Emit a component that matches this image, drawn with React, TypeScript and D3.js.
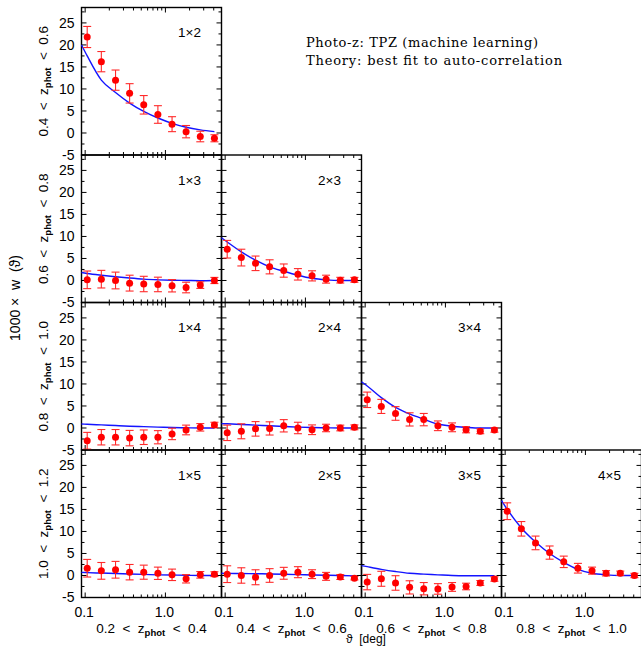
import React from "react";
import * as d3 from "d3";

// angular bins (deg) and the grid the fit curve is drawn on
const theta = [0.106, 0.159, 0.239, 0.358, 0.537, 0.806, 1.21, 1.81, 2.72, 4.08];
const thetaFit = [0.09, 0.106, 0.159, 0.239, 0.358, 0.537, 0.806, 1.21, 1.81, 2.72, 4.08];

// 1000 x w(theta), errors and best-fit theory, one set per bin pair
const w12 = [21.8, 16.2, 12.0, 9.0, 6.4, 4.2, 2.0, 0.3, -0.8, -1.2];
const e12 = [2.4, 2.3, 2.3, 2.2, 2.1, 2.0, 1.7, 1.4, 1.2, 0.8];
const fit12 = [20.0, 17.5, 12.0, 9.2, 6.8, 4.9, 3.4, 2.2, 1.3, 0.7, 0.3];

const w13 = [0.15, 0.3, 0.0, -0.6, -0.8, -0.9, -1.2, -1.6, -1.05, 0.0];
const e13 = [2.0, 2.0, 1.9, 1.8, 1.75, 1.65, 1.4, 1.2, 0.75, 0.7];
const fit13 = [1.8, 1.6, 1.2, 0.85, 0.55, 0.3, 0.15, 0.05, 0.0, -0.05, 0.0];

const w23 = [7.1, 5.2, 3.9, 3.1, 2.25, 1.4, 1.05, 0.3, 0.07, 0.15];
const e23 = [2.0, 1.9, 1.65, 1.6, 1.5, 1.3, 1.15, 0.9, 0.65, 0.55];
const fit23 = [9.7, 8.75, 6.5, 4.6, 3.1, 2.1, 1.2, 0.5, 0.15, 0.0, 0.0];

const w14 = [-2.9, -2.1, -2.1, -2.3, -2.1, -2.1, -1.35, -0.45, 0.15, 0.7];
const e14 = [1.9, 1.75, 1.75, 1.75, 1.65, 1.5, 1.3, 1.1, 0.85, 0.6];
const fit14 = [0.9, 0.85, 0.7, 0.55, 0.4, 0.3, 0.2, 0.1, 0.05, 0.0, 0.0];

const w24 = [-1.1, -0.75, -0.2, -0.1, 0.5, 0.0, -0.4, 0.0, 0.0, 0.15];
const e24 = [1.75, 1.7, 1.65, 1.5, 1.4, 1.3, 1.1, 0.85, 0.65, 0.55];
const fit24 = [1.0, 0.95, 0.8, 0.65, 0.5, 0.35, 0.2, 0.1, 0.05, 0.0, 0.0];

const w34 = [6.4, 4.9, 3.3, 1.95, 1.9, 0.5, 0.15, -0.4, -0.75, -0.45];
const e34 = [1.75, 1.6, 1.55, 1.5, 1.4, 1.1, 1.0, 0.7, 0.55, 0.5];
const fit34 = [10.5, 9.55, 6.9, 4.7, 3.2, 2.0, 0.9, 0.4, 0.15, 0.0, 0.0];

const w15 = [1.65, 1.05, 1.3, 0.75, 0.75, 0.5, 0.15, -0.75, 0.15, 0.3];
const e15 = [2.0, 1.9, 1.9, 1.75, 1.6, 1.4, 1.3, 0.95, 0.75, 0.55];
const fit15 = [0.7, 0.65, 0.55, 0.45, 0.35, 0.25, 0.15, 0.1, 0.05, 0.0, 0.0];

const w25 = [0.3, 0.0, -0.4, 0.0, 0.5, 0.75, 0.3, -0.2, -0.35, -0.6];
const e25 = [1.9, 1.75, 1.7, 1.55, 1.35, 1.25, 1.0, 0.9, 0.55, 0.4];
const fit25 = [0.5, 0.48, 0.45, 0.4, 0.35, 0.28, 0.2, 0.12, 0.05, 0.0, -0.1];

const w35 = [-1.5, -0.75, -1.7, -2.7, -3.0, -3.05, -2.6, -2.5, -1.7, -0.8];
const e35 = [1.75, 1.7, 1.65, 1.5, 1.4, 1.2, 1.0, 0.75, 0.55, 0.5];
const fit35 = [2.25, 2.0, 1.4, 0.9, 0.5, 0.3, 0.15, 0.0, -0.05, -0.05, -0.05];

const w45 = [14.6, 10.6, 7.4, 5.2, 3.1, 1.65, 1.1, 0.5, 0.5, 0.0];
const e45 = [1.9, 1.65, 1.55, 1.5, 1.3, 1.1, 0.8, 0.6, 0.5, 0.5];
const fit45 = [17.0, 15.0, 10.8, 7.6, 5.0, 3.0, 1.4, 0.5, 0.15, 0.0, 0.0];

// tick values and bin edges
const yTicks = [-5, 0, 5, 10, 15, 20, 25];
const yMinor = [-2.5, 2.5, 7.5, 12.5, 17.5, 22.5, 27.5];
const xMajor = [0.1, 1];
const xMajorLabels = ["0.1", "1.0"];
const xMinor = [0.2, 0.3, 0.4, 0.5, 0.6, 0.7, 0.8, 0.9, 2, 3, 4];
const zEdges = ["0.2", "0.4", "0.6", "0.8", "1.0", "1.2"];

const panels = [
  { label: "1×2", col: 0, row: 0, w: w12, e: e12, fit: fit12 },
  { label: "1×3", col: 0, row: 1, w: w13, e: e13, fit: fit13 },
  { label: "2×3", col: 1, row: 1, w: w23, e: e23, fit: fit23 },
  { label: "1×4", col: 0, row: 2, w: w14, e: e14, fit: fit14 },
  { label: "2×4", col: 1, row: 2, w: w24, e: e24, fit: fit24 },
  { label: "3×4", col: 2, row: 2, w: w34, e: e34, fit: fit34 },
  { label: "1×5", col: 0, row: 3, w: w15, e: e15, fit: fit15 },
  { label: "2×5", col: 1, row: 3, w: w25, e: e25, fit: fit25 },
  { label: "3×5", col: 2, row: 3, w: w35, e: e35, fit: fit35 },
  { label: "4×5", col: 3, row: 3, w: w45, e: e45, fit: fit45 },
];

const W = 641;
const H = 646;
const left = 81.5;
const top = 7.5;
const pw = 140;
const ph = 147.5;
const font = "'Liberation Sans', Arial, sans-serif";
const fs = 13.5;
const sp = "\u00a0\u00a0";

const x = d3.scaleLog().domain([0.09, 5]).range([0, pw]);
const y = d3.scaleLinear().domain([-5, 28.5]).range([ph, 0]);

const fitLine = d3
  .line<number>()
  .x((d, i) => x(thetaFit[i]))
  .y((d) => y(d))
  .curve(d3.curveMonotoneX);

function ZLabel({ lo, hi }: { lo: string; hi: string }) {
  return (
    <>
      {lo + sp + "<" + sp + "z"}
      <tspan dy={3} fontSize={9.5} fontWeight="bold">phot</tspan>
      <tspan dy={-3}>{sp + "<" + sp + hi}</tspan>
    </>
  );
}

function Panel({ p }: { p: (typeof panels)[number] }) {
  const tx = left + p.col * pw;
  const ty = top + p.row * ph;
  const major = 5;
  const minor = 3;
  return (
    <g transform={`translate(${tx},${ty})`}>
      {/* ticks on all four sides, pointing inward */}
      <g stroke="#000" strokeWidth={1}>
        {xMajor.map((t) => (
          <g key={"xm" + t}>
            <line x1={x(t)} x2={x(t)} y1={ph} y2={ph - major} />
            <line x1={x(t)} x2={x(t)} y1={0} y2={major} />
          </g>
        ))}
        {xMinor.map((t) => (
          <g key={"xn" + t}>
            <line x1={x(t)} x2={x(t)} y1={ph} y2={ph - minor} />
            <line x1={x(t)} x2={x(t)} y1={0} y2={minor} />
          </g>
        ))}
        {yTicks.map((t) => (
          <g key={"ym" + t}>
            <line x1={0} x2={major} y1={y(t)} y2={y(t)} />
            <line x1={pw} x2={pw - major} y1={y(t)} y2={y(t)} />
          </g>
        ))}
        {yMinor.map((t) => (
          <g key={"yn" + t}>
            <line x1={0} x2={minor} y1={y(t)} y2={y(t)} />
            <line x1={pw} x2={pw - minor} y1={y(t)} y2={y(t)} />
          </g>
        ))}
      </g>
      <rect x={0} y={0} width={pw} height={ph} fill="none" stroke="#000" strokeWidth={1.4} />

      <path d={fitLine(p.fit) || ""} fill="none" stroke="#1414ff" strokeWidth={1.4} />

      <g stroke="#ff2a2a" strokeWidth={1.1}>
        {p.w.map((v, i) => {
          const cx = x(theta[i]);
          const y1 = y(v + p.e[i]);
          const y2 = y(v - p.e[i]);
          return (
            <g key={"eb" + i}>
              <line x1={cx} x2={cx} y1={y1} y2={y2} />
              <line x1={cx - 4} x2={cx + 4} y1={y1} y2={y1} />
              <line x1={cx - 4} x2={cx + 4} y1={y2} y2={y2} />
            </g>
          );
        })}
      </g>
      {p.w.map((v, i) => (
        <circle key={"pt" + i} cx={x(theta[i])} cy={y(v)} r={3.5} fill="#ff0000" />
      ))}

      <text x={pw - 32} y={25} dy="0.35em" textAnchor="middle" fontSize={fs} fontFamily={font}>
        {p.label}
      </text>

      {p.col === 0 &&
        yTicks.map((t) => (
          <text key={"yl" + t} x={-7} y={y(t)} dy="0.35em" textAnchor="end" fontSize={14} fontFamily={font}>
            {t}
          </text>
        ))}
      {p.col === 0 && (
        <text
          transform={`translate(${43 - left},${ph / 2}) rotate(-90)`}
          dy="0.35em"
          textAnchor="middle"
          fontSize={fs}
          fontFamily={font}
        >
          <ZLabel lo={zEdges[p.row + 1]} hi={zEdges[p.row + 2]} />
        </text>
      )}
      {p.row === 3 &&
        xMajor.map((t, i) => (
          <text key={"xl" + t} x={x(t) - 1} y={ph + 19} textAnchor="middle" fontSize={14} fontFamily={font}>
            {xMajorLabels[i]}
          </text>
        ))}
      {p.row === 3 && (
        <text x={pw / 2} y={ph + 35} textAnchor="middle" fontSize={fs} fontFamily={font}>
          <ZLabel lo={zEdges[p.col]} hi={zEdges[p.col + 1]} />
        </text>
      )}
    </g>
  );
}

export default function App() {
  return (
    <svg
      width={W}
      height={H}
      style={{ position: "absolute", left: 0, top: 0, background: "#fff" }}
    >
      <rect width={W} height={H} fill="#fff" />
      {panels.map((p) => (
        <Panel key={p.label} p={p} />
      ))}
      <text
        transform="translate(15,298) rotate(-90)"
        dy="0.35em"
        textAnchor="middle"
        fontSize={14}
        fontFamily={font}
      >
        {"1000\u00a0×\u00a0\u00a0w\u00a0\u00a0(ϑ)"}
      </text>
      <text x={366} y={643} textAnchor="middle" fontSize={12} fontFamily={font}>
        {"ϑ\u00a0\u00a0[deg]"}
      </text>
      <g fontFamily="'DejaVu Serif', serif" fontSize={13}>
        <text x={306} y={47} textLength={232} lengthAdjust="spacing">
          Photo-z: TPZ (machine learning)
        </text>
        <text x={306} y={65} textLength={256} lengthAdjust="spacing">
          Theory: best fit to auto-correlation
        </text>
      </g>
    </svg>
  );
}
